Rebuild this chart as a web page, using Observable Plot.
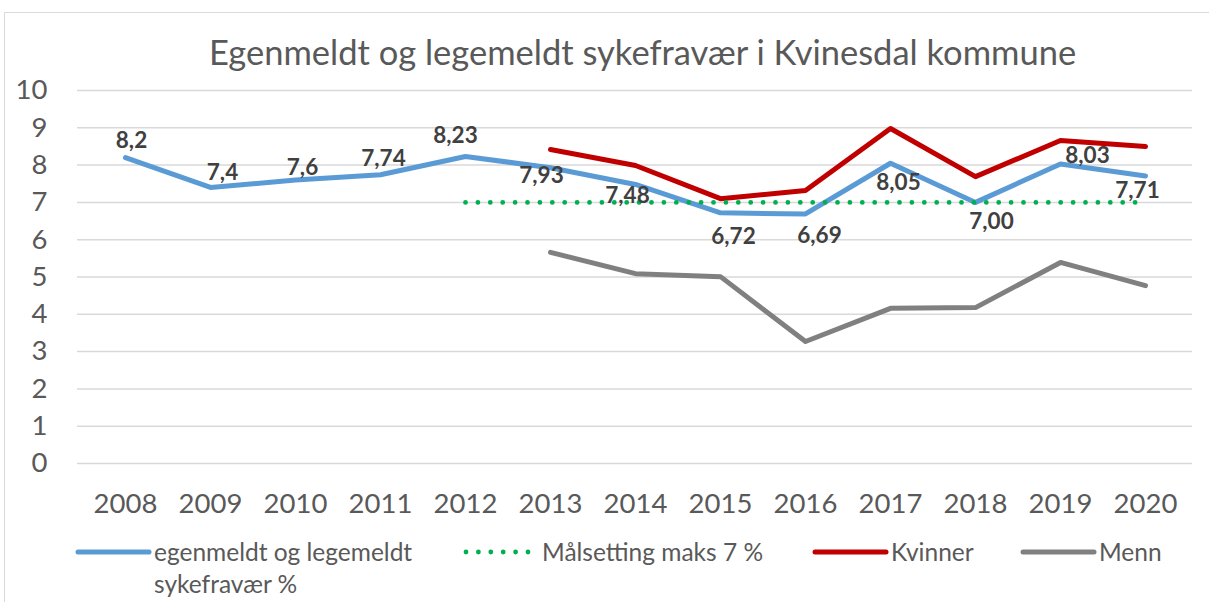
<!DOCTYPE html>
<html><head><meta charset="utf-8">
<script src="https://cdn.jsdelivr.net/npm/d3@7"></script>
<script src="https://cdn.jsdelivr.net/npm/@observablehq/plot@0.6"></script>
<style>
body{margin:0;background:#fff;font-family:Lato,"Open Sans",sans-serif;width:1209px;height:602px;overflow:hidden;position:relative;}
#frame{position:absolute;left:4px;top:12px;width:1300px;height:700px;border:1.5px solid #d9d9d9;box-sizing:border-box;}
#title{position:absolute;top:32px;left:0;width:1285px;text-align:center;font-size:34.5px;color:#595959;line-height:40px;white-space:nowrap;}
#chart{position:absolute;left:0;top:70px;}
.leg{position:absolute;font-size:24.5px;color:#595959;line-height:32px;}
.leg svg{position:absolute;left:0;top:9px;}
.leg span{position:absolute;white-space:nowrap;}
</style></head>
<body>
<div id="frame"></div>
<div id="title">Egenmeldt og legemeldt sykefravær i Kvinesdal kommune</div>
<div id="chart"></div>
<div id="legend"></div>
<script>
const years = [2008,2009,2010,2011,2012,2013,2014,2015,2016,2017,2018,2019,2020];
const total = [8.2,7.4,7.6,7.74,8.23,7.93,7.48,6.72,6.69,8.05,7.00,8.03,7.71];
const totalLabels = ["8,2","7,4","7,6","7,74","8,23","7,93","7,48","6,72","6,69","8,05","7,00","8,03","7,71"];
const targetYears = [2012,2013,2014,2015,2016,2017,2018,2019,2020];
const target = [7,7,7,7,7,7,7,7,7];
const splitYears = [2013,2014,2015,2016,2017,2018,2019,2020];
const kvinner = [8.42,7.99,7.10,7.32,8.98,7.69,8.66,8.50];
const menn = [5.66,5.09,5.01,3.27,4.16,4.18,5.39,4.77];
const yTicks = [0,1,2,3,4,5,6,7,8,9,10];
const seriesNames = ["egenmeldt og legemeldt sykefravær %","Målsetting maks 7 %","Kvinner","Menn"];
const seriesColors = ["#5b9bd5","#00b050","#c00000","#808080"];

// label offsets (px) to mimic the original placement
const labelDx = [6,12,7,3,-10,-9,-8,13,14,8,16,27,-8];
const labelDy = [-17,-15,-12,-16,-21,8,11,24,22,20,19,-8,15];

const totalRows = years.map((y,i)=>({year:y, v:total[i], label:totalLabels[i]}));
const targetRows = targetYears.map((y,i)=>({year:y, v:target[i]}));
const kRows = splitYears.map((y,i)=>({year:y, v:kvinner[i]}));
const mRows = splitYears.map((y,i)=>({year:y, v:menn[i]}));

const lineOpts = {x:"year", y:"v", strokeWidth:5, strokeLinejoin:"round", strokeLinecap:"round"};

const chart = Plot.plot({
  width:1209, height:460,
  marginTop:20, marginBottom:67, marginLeft:77, marginRight:17,
  style:{fontFamily:"Lato, 'Open Sans', sans-serif", color:"#595959", background:"transparent"},
  x:{type:"point", domain:years, padding:0.5},
  y:{domain:[0,10]},
  marks:[
    Plot.gridY(yTicks, {stroke:"#d9d9d9", strokeOpacity:1, strokeWidth:1.5}),
    Plot.axisY(yTicks, {tickSize:0, tickPadding:30, fontSize:27.5, label:null, fill:"#595959"}),
    Plot.axisX({tickSize:0, tickPadding:30, fontSize:27.5, label:null, tickFormat:d=>String(d), fill:"#595959"}),
    Plot.line(mRows, {...lineOpts, stroke:seriesColors[3]}),
    Plot.line(totalRows, {...lineOpts, stroke:seriesColors[0]}),
    Plot.line(kRows, {...lineOpts, stroke:seriesColors[2]}),
    Plot.line(targetRows, {x:"year", y:"v", stroke:seriesColors[1], strokeWidth:4.8, strokeDasharray:"0 12.4", strokeLinecap:"round"}),
    ...totalRows.map((r,i)=>Plot.text([r], {x:"year", y:"v", text:"label", dx:labelDx[i], dy:labelDy[i], fontSize:22.5, fontWeight:"bold", fill:"#404040"}))
  ]
});
document.getElementById("chart").appendChild(chart);

// legend
const legX = [75,463,812,1020];
const leg = document.getElementById("legend");
seriesNames.forEach((name,i)=>{
  const d = document.createElement("div");
  d.className = "leg";
  d.style.left = legX[i]+"px";
  d.style.top = "536px";
  const dash = i===1 ? 'stroke-dasharray="0 12.4"' : '';
  const w = i===1 ? 4.8 : 5;
  d.innerHTML = `<svg width="80" height="14"><line x1="3" y1="7" x2="74" y2="7" stroke="${seriesColors[i]}" stroke-width="${w}" stroke-linecap="round" ${dash}/></svg>`;
  const s = document.createElement("span");
  s.style.left = "79px";
  if (i===0) { s.innerHTML = "egenmeldt og legemeldt<br>sykefravær %"; }
  else s.textContent = name;
  d.appendChild(s);
  leg.appendChild(d);
});
</script>
</body></html>
